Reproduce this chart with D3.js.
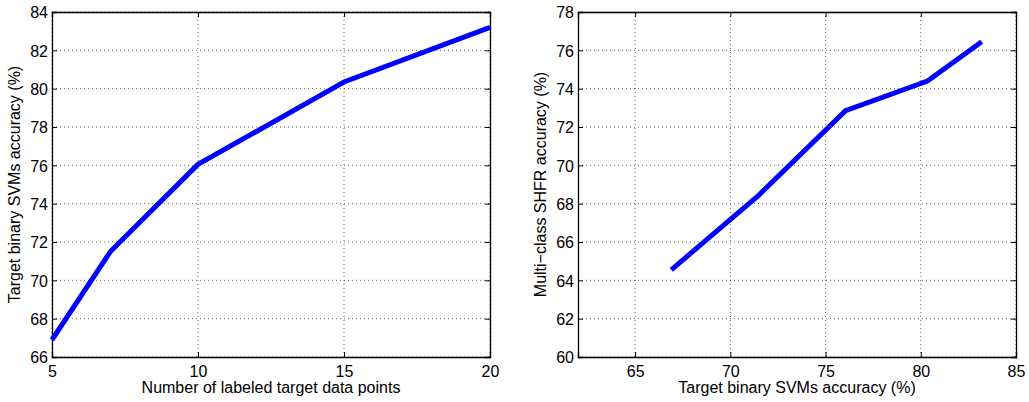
<!DOCTYPE html>
<html>
<head>
<meta charset="utf-8">
<script src="https://cdn.jsdelivr.net/npm/d3@7"></script>
<style>
  body { margin: 0; background: #fff; }
  text { font-family: "Liberation Sans", Arial, sans-serif; }
</style>
</head>
<body>
<div id="chart"></div>
<script>
// data
var labeledPoints = [5, 7, 10, 15, 20];
var binaryAcc = [66.9, 71.5, 76.05, 80.35, 83.2];
var multiAcc = [64.55, 68.45, 72.85, 74.4, 76.45];

var leftXTicks = [5, 10, 15, 20];
var leftYTicks = [66, 68, 70, 72, 74, 76, 78, 80, 82, 84];
var rightXTicks = [65, 70, 75, 80, 85];
var rightYTicks = [60, 62, 64, 66, 68, 70, 72, 74, 76, 78];

var svgWidth = 1029;
var svgHeight = 402;

var svg = d3.select("#chart").append("svg")
  .attr("width", svgWidth)
  .attr("height", svgHeight);

function drawPanel(opt) {
  var w = opt.right - opt.left;
  var h = opt.bottom - opt.top;
  var g = svg.append("g")
    .attr("transform", `translate(${opt.left}, ${opt.top})`);

  var x = d3.scaleLinear().domain(opt.xDomain).range([0, w]);
  var y = d3.scaleLinear().domain(opt.yDomain).range([h, 0]);

  // dotted grid
  g.append("g").selectAll("line")
    .data(opt.xTicks)
    .enter()
    .append("line")
      .attr("x1", d => x(d)).attr("x2", d => x(d))
      .attr("y1", 0).attr("y2", h)
      .attr("stroke", "#000")
      .attr("stroke-opacity", 0.6)
      .attr("stroke-dasharray", "1,3");
  g.append("g").selectAll("line")
    .data(opt.yTicks)
    .enter()
    .append("line")
      .attr("x1", 0).attr("x2", w)
      .attr("y1", d => y(d)).attr("y2", d => y(d))
      .attr("stroke", "#000")
      .attr("stroke-opacity", 0.6)
      .attr("stroke-dasharray", "1,3");

  // axes, ticks pointing inward
  g.append("g")
    .attr("transform", "translate(0," + h + ")")
    .call(d3.axisBottom(x).tickValues(opt.xTicks).tickSize(-5).tickPadding(9).tickFormat(d3.format("d")));
  var leftAxis = g.append("g")
    .call(d3.axisLeft(y).tickValues(opt.yTicks).tickSize(-5).tickPadding(4).tickFormat(d3.format("d")));
  g.append("g")
    .attr("transform", "translate(" + w + ",0)")
    .call(d3.axisRight(y).tickValues(opt.yTicks).tickSize(-5).tickFormat(""));
  g.append("g")
    .call(d3.axisTop(x).tickValues(opt.xTicks).tickSize(-5).tickFormat(""));

  g.selectAll(".domain").attr("stroke", "#000").attr("stroke-width", 1.3);
  g.selectAll(".tick line").attr("stroke", "#000").attr("stroke-width", 1);
  g.selectAll(".tick text")
    .attr("font-size", "16px")
    .attr("font-family", "'Liberation Sans', Arial, sans-serif")
    .attr("fill", "#000");
  leftAxis.selectAll(".tick text").attr("dy", "0.36em");

  // line
  var line = d3.line()
    .x(d => x(d[0]))
    .y(d => y(d[1]));
  g.append("path")
    .datum(opt.points)
    .attr("d", line)
    .attr("fill", "none")
    .attr("stroke", "#0000ff")
    .attr("stroke-width", 5)
    .attr("stroke-linejoin", "miter");

  // labels
  g.append("text")
    .attr("x", w / 2)
    .attr("y", h + 36)
    .attr("text-anchor", "middle")
    .attr("font-size", "16px")
    .text(opt.xLabel);

  g.append("text")
    .attr("transform", "rotate(-90)")
    .attr("x", -h / 2)
    .attr("y", opt.yLabelOffset)
    .attr("text-anchor", "middle")
    .attr("font-size", "16px")
    .text(opt.yLabel);
}

drawPanel({
  left: 52, right: 490, top: 12, bottom: 357,
  xDomain: [5, 20], yDomain: [66, 84],
  xTicks: leftXTicks, yTicks: leftYTicks,
  points: labeledPoints.map((d, i) => [d, binaryAcc[i]]),
  xLabel: "Number of labeled target data points",
  yLabel: "Target binary SVMs accuracy (%)",
  yLabelOffset: -32
});

drawPanel({
  left: 578, right: 1016, top: 12, bottom: 357,
  xDomain: [62, 85], yDomain: [60, 78],
  xTicks: rightXTicks, yTicks: rightYTicks,
  points: binaryAcc.map((d, i) => [d, multiAcc[i]]),
  xLabel: "Target binary SVMs accuracy (%)",
  yLabel: "Multi\u2212class SHFR accuracy (%)",
  yLabelOffset: -32
});
</script>
</body>
</html>
